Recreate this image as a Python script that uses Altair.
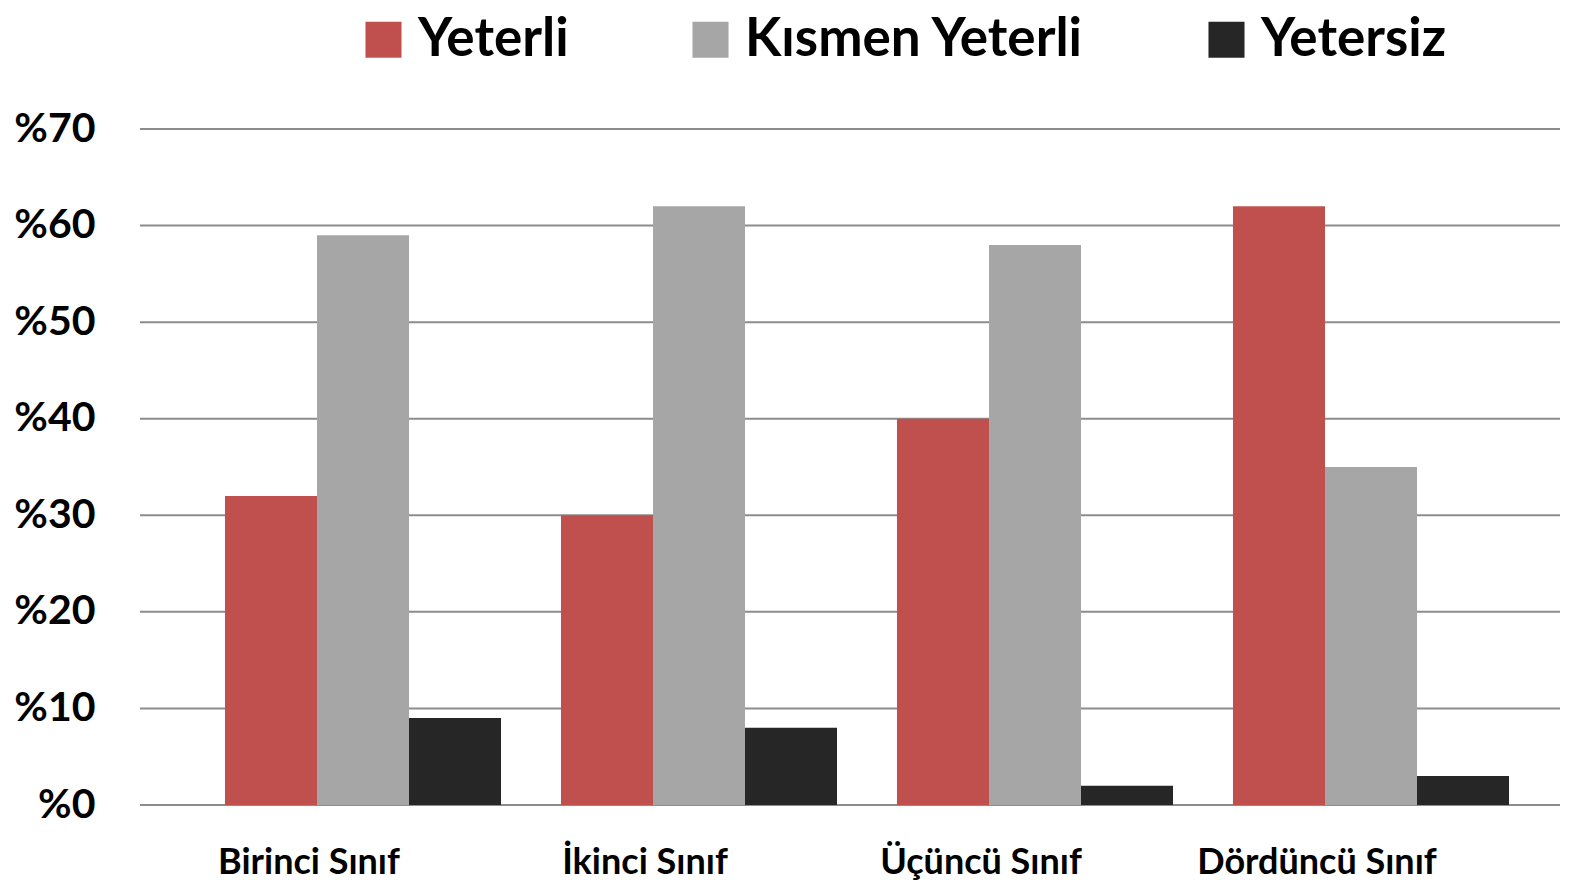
import altair as alt
import pandas as pd

classes = ["Birinci Sınıf", "İkinci Sınıf", "Üçüncü Sınıf", "Dördüncü Sınıf"]
series = ["Yeterli", "Kısmen Yeterli", "Yetersiz"]
yeterli = [32, 30, 40, 62]
kismen = [59, 62, 58, 35]
yetersiz = [9, 8, 2, 3]
colors = ["#C0504D", "#A6A6A6", "#262626"]
y_ticks = [0, 10, 20, 30, 40, 50, 60, 70]

rows = []
for i, c in enumerate(classes):
    for s, vals in zip(series, [yeterli, kismen, yetersiz]):
        rows.append({"sinif": c, "seri": s, "deger": vals[i]})
df = pd.DataFrame(rows)
labels_df = pd.DataFrame({"sinif": classes})
grid_df = pd.DataFrame({"tick": y_ticks})

FONT = "Lato"
H = 676
W = 1420

yscale = alt.Scale(domain=[0, 70], nice=False)

xenc = alt.X("sinif:N", sort=classes, title=None,
             scale=alt.Scale(paddingInner=0.0, paddingOuter=0.0, range=[55, 1399]),
             axis=None)

grid = alt.Chart(grid_df).mark_rule(color="#8C8C8C", strokeWidth=2).encode(
    y=alt.Y("tick:Q", scale=yscale, title=None,
            axis=alt.Axis(values=y_ticks, labelExpr="'%' + datum.value",
                          labelFontSize=41, labelFont=FONT, labelFontWeight="bold",
                          labelColor="#000000", domain=False, ticks=False,
                          labelPadding=45, grid=False)),
    x=alt.value(0),
    x2=alt.value(W),
)

bars = alt.Chart(df).mark_bar().encode(
    x=xenc,
    xOffset=alt.XOffset("seri:N", sort=series,
                        scale=alt.Scale(paddingInner=0.0, paddingOuter=0.326)),
    y=alt.Y("deger:Q", title=None, scale=yscale),
    color=alt.Color("seri:N", sort=series,
                    scale=alt.Scale(domain=series, range=colors),
                    legend=alt.Legend(title=None, orient="none", direction="horizontal",
                                      legendX=217, legendY=-116,
                                      symbolType="square", symbolSize=1300,
                                      symbolStrokeWidth=0, symbolOpacity=1,
                                      labelFontSize=53, labelFont=FONT,
                                      labelFontWeight="bold", labelColor="#000000",
                                      labelOffset=8, columnPadding=115,
                                      labelLimit=600)),
)

xlabels = alt.Chart(labels_df).mark_text(
    dx=-54, fontSize=36, font=FONT, fontWeight="bold", color="#000000",
    baseline="middle", align="center"
).encode(
    x=xenc,
    y=alt.value(H + 58),
    text="sinif:N",
)

chart = alt.layer(grid, bars, xlabels).properties(
    width=W, height=H,
    background="#FFFFFF",
    autosize=alt.AutoSizeParams(type="none"),
    padding={"left": 132, "top": 121, "right": 10, "bottom": 80},
).configure_view(strokeWidth=0)

chart.save("out.html", embed_options={"renderer": "svg", "actions": False})
